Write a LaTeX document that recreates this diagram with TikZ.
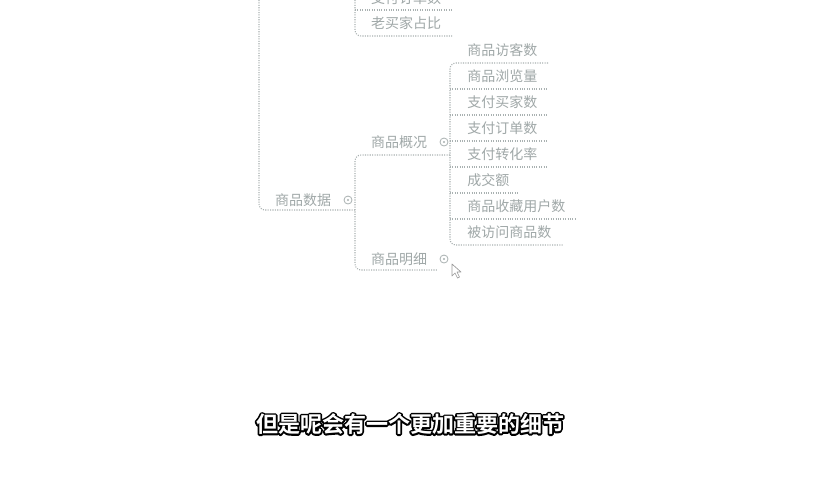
\documentclass[tikz,border=0pt]{standalone}
\usepackage{fontspec}
\newfontfamily\cjk{Noto Sans CJK SC}
\newfontfamily\cjkbold{Noto Sans CJK SC Bold}
\definecolor{branch}{HTML}{A9B1B1}
\definecolor{topic}{HTML}{A0A8A8}
% white glyphs with a black outline: a stroked copy sits under the filled one
\newcommand\strokedtext[1]{%
  \special{pdf:code q 1 Tr 2.6 w 1 j 0 0 0 RG}#1\special{pdf:code Q}}
\newcommand\outlined[1]{\rlap{\strokedtext{#1}}\textcolor{white}{#1}}
\tikzset{
  px/.style={x=0.75pt,y=-0.75pt},
  link/.style={draw=branch,line width=0.8pt,densely dotted,rounded corners=4.5pt},
  topicnode/.style={font=\cjk\fontsize{10.5}{12}\selectfont,text=topic,inner sep=0pt},
  fold/.style={circle,draw=branch,line width=0.6pt,minimum size=6pt,inner sep=0pt},
  captionnode/.style={font=\cjkbold\fontsize{16.5}{18}\selectfont,inner sep=0pt},
}
\begin{document}
\begin{tikzpicture}[px]
\useasboundingbox (0,0) rectangle (820,480);
\clip (0,0) rectangle (820,480);
\fill[white] (0,0) rectangle (820,480);

% ---- topic labels ----
\node[topicnode] (zfdd) at (406,-2) {支付订单数};
\node[topicnode] (lmj)  at (406,23) {老买家占比};
\node[topicnode] (spsj) at (303,200) {商品数据};
\node[topicnode] (spgk) at (399,142) {商品概况};
\node[topicnode] (spmx) at (399,259) {商品明细};
\node[topicnode,anchor=west] (c1) at (467,50)  {商品访客数};
\node[topicnode,anchor=west] (c2) at (467,76)  {商品浏览量};
\node[topicnode,anchor=west] (c3) at (467,102) {支付买家数};
\node[topicnode,anchor=west] (c4) at (467,128) {支付订单数};
\node[topicnode,anchor=west] (c5) at (467,154) {支付转化率};
\node[topicnode,anchor=west] (c6) at (467,180) {成交额};
\node[topicnode,anchor=west] (c7) at (467,206) {商品收藏用户数};
\node[topicnode,anchor=west] (c8) at (467,232) {被访问商品数};

% ---- fold markers ----
\node[fold] (f1) at (348,200) {};
\node[fold] (f2) at (444,142) {};
\node[fold] (f3) at (444,259) {};
\foreach \f in {f1,f2,f3} \fill[branch] (\f) circle (0.9pt);

% ---- branch points and underline ends ----
\coordinate (top0) at (259,0);
\coordinate (u0)   at (355,210);
\coordinate (topb) at (355,0);
\coordinate (ua)   at (452,10);
\coordinate (ub)   at (452,36);
\coordinate (ugk)  at (450,155);
\coordinate (umx)  at (437,270);

% upper branch (partly above the edge)
\draw[link] (topb) |- (ub);
\draw[link] (355,10) -- (ua);

% 商品数据 and its subtopics
\draw[link] (top0) |- (u0);
\draw[link] (ugk) -| (355,210) |- (umx);

% children of 商品概况
\draw[link] (548,63) -| (450,143) |- (563,245);
\foreach \y/\e in {89/548,115/548,141/548,167/548,193/519,219/577} {
  \draw[link] (450,\y) -- (\e,\y);
}

% ---- mouse pointer ----
\draw[fill=white,draw=gray!80,line width=0.5pt,line join=round]
  (452,264) -- (452,276) -- (455,273) -- (457.5,278) -- (459.5,277)
  -- (457,272) -- (461,272) -- cycle;

% ---- caption ----
\node[captionnode] (caption) at (410,424) {\outlined{但是呢会有一个更加重要的细节}};
\end{tikzpicture}
\end{document}
